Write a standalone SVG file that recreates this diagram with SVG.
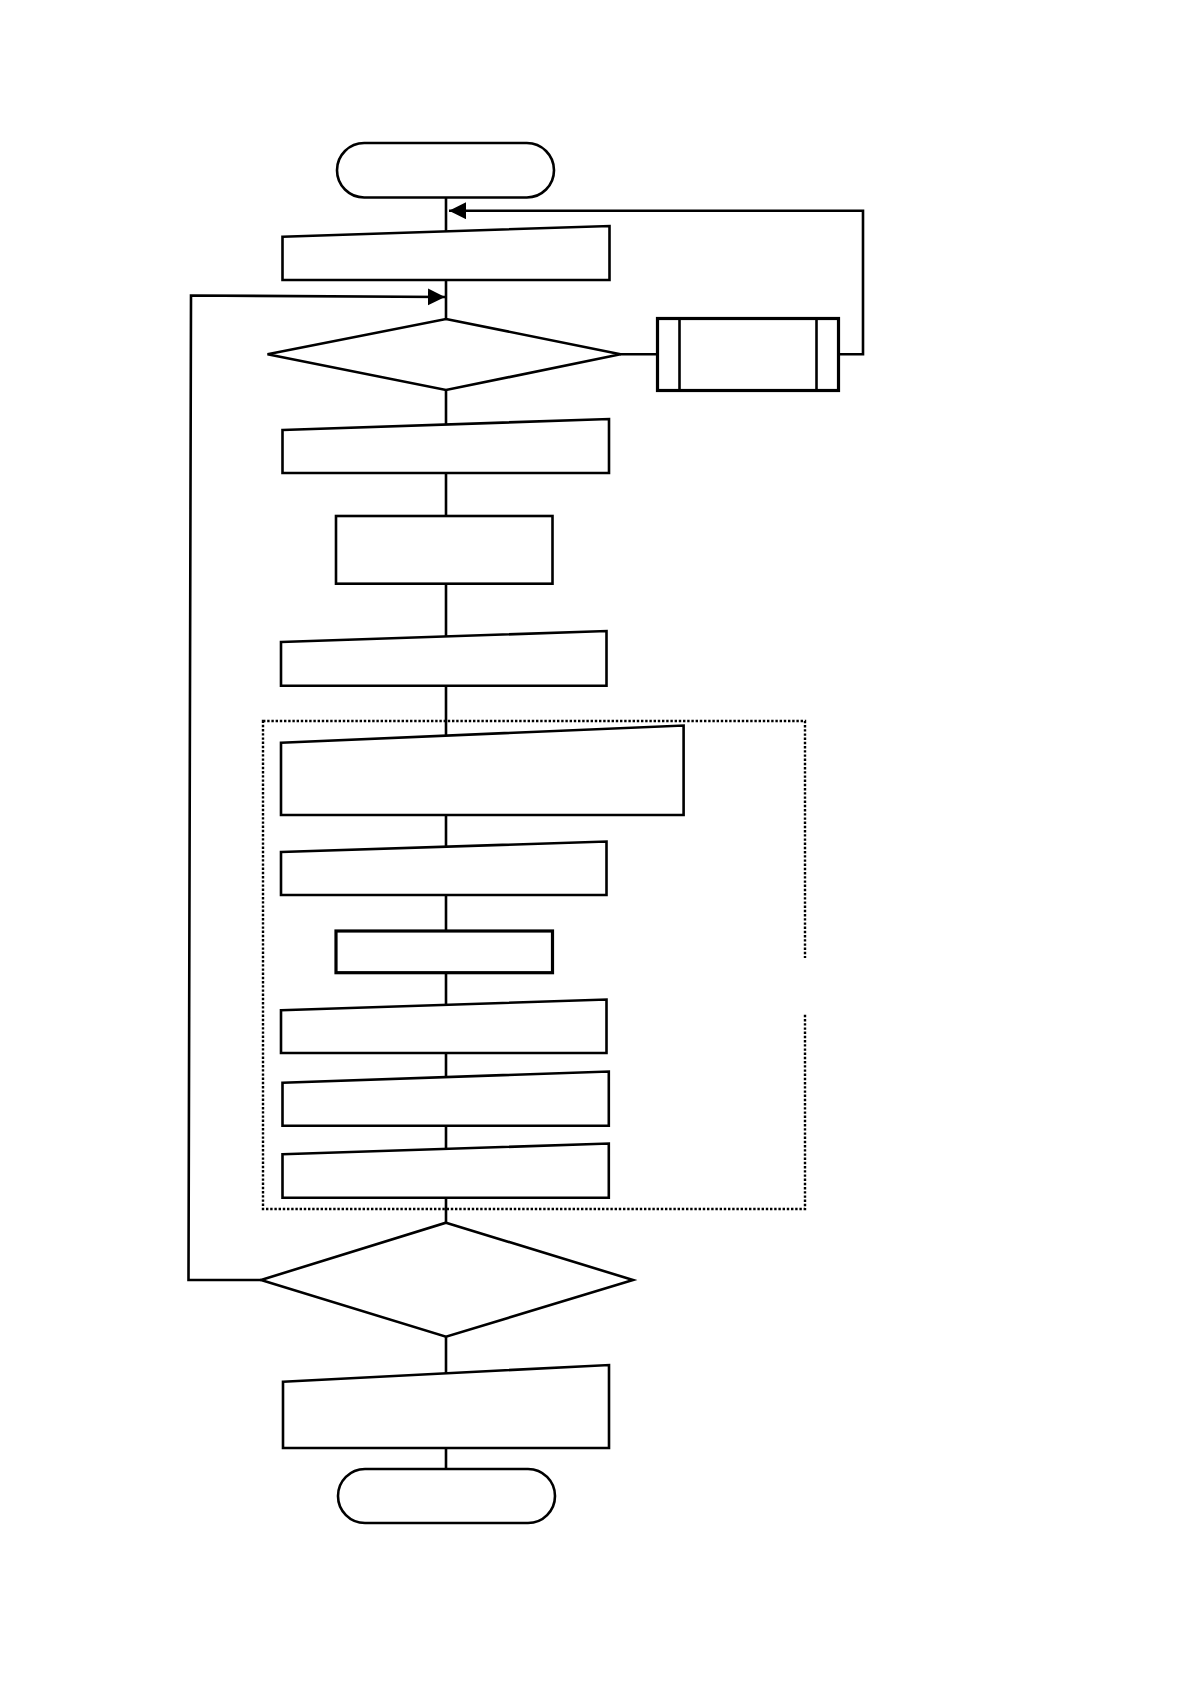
<svg xmlns="http://www.w3.org/2000/svg" width="1190" height="1684" viewBox="0 0 1190 1684">
<style>
.n{fill:#fff;stroke:#000;stroke-width:2.6;stroke-linejoin:miter}
.thick{stroke-width:3.2}
.c{fill:none;stroke:#000;stroke-width:2.6}
.grp{fill:none;stroke:#000;stroke-width:2.4;stroke-dasharray:2.4 1.8}
</style>
<defs>
<marker id="ah" markerUnits="userSpaceOnUse" markerWidth="18" markerHeight="18" refX="17" refY="8.5" orient="auto">
<path d="M0,0 L17,8.5 L0,17 Z" fill="#000"/>
</marker>
</defs>
<rect width="1190" height="1684" fill="#fff"/>
<g id="connectors">
<line class="c" x1="446" y1="197" x2="446" y2="232"/>
<line class="c" x1="446" y1="280" x2="446" y2="319"/>
<line class="c" x1="446" y1="390" x2="446" y2="425"/>
<line class="c" x1="446" y1="473" x2="446" y2="516"/>
<line class="c" x1="446" y1="584" x2="446" y2="637"/>
<line class="c" x1="446" y1="686" x2="446" y2="736"/>
<line class="c" x1="446" y1="815" x2="446" y2="847"/>
<line class="c" x1="446" y1="895" x2="446" y2="931"/>
<line class="c" x1="446" y1="973" x2="446" y2="1005"/>
<line class="c" x1="446" y1="1053" x2="446" y2="1077"/>
<line class="c" x1="446" y1="1126" x2="446" y2="1149"/>
<line class="c" x1="446" y1="1198" x2="446" y2="1223"/>
<line class="c" x1="446" y1="1337" x2="446" y2="1374"/>
<line class="c" x1="446" y1="1448" x2="446" y2="1469"/>
<line class="c" x1="620" y1="354.3" x2="658" y2="354.3"/>
<polyline class="c" points="838,354.3 863,354.3 863,210.7 449,210.7" marker-end="url(#ah)"/>
<polyline class="c" points="261,1280 188.5,1280 191,295.5 445,297" marker-end="url(#ah)"/>
</g>
<g id="start"><rect class="n" x="337" y="143" width="217" height="54.5" rx="27.2" ry="27.2"/></g>
<g id="input1"><polygon class="n" points="282.5,236.7 609.5,226 609.5,280 282.5,280"/></g>
<g id="decision1"><polygon class="n" points="446,319 620.5,354.3 446,390 267.5,354.3"/></g>
<g id="subprocess"><rect class="n thick" x="657.5" y="318.5" width="181" height="72"/><line class="c" x1="679.5" y1="318.5" x2="679.5" y2="390.5"/><line class="c" x1="816.5" y1="318.5" x2="816.5" y2="390.5"/></g>
<g id="input2"><polygon class="n" points="282.5,430 609,419 609,473 282.5,473"/></g>
<g id="process1"><rect class="n" x="336" y="516" width="216.5" height="67.7"/></g>
<g id="input3"><polygon class="n" points="281,642 606.5,631 606.5,685.7 281,685.7"/></g>
<g id="group"><rect class="grp" x="263" y="721" width="542" height="488"/><rect x="800" y="958" width="12" height="56" fill="#fff"/></g>
<g id="input4"><polygon class="n" points="281,742.7 683.6,725.5 683.6,815 281,815"/></g>
<g id="input5"><polygon class="n" points="281,852 606.5,841.5 606.5,895 281,895"/></g>
<g id="process2"><rect class="n thick" x="336" y="931" width="216.5" height="41.7"/></g>
<g id="input6"><polygon class="n" points="281,1010.3 606.5,999.5 606.5,1053 281,1053"/></g>
<g id="input7"><polygon class="n" points="282.5,1082.7 608.8,1071.5 608.8,1125.7 282.5,1125.7"/></g>
<g id="input8"><polygon class="n" points="282.5,1154.3 608.8,1143.5 608.8,1197.7 282.5,1197.7"/></g>
<g id="decision2"><polygon class="n" points="446,1222.7 633,1280 446,1336.7 261,1280"/></g>
<g id="input9"><polygon class="n" points="283,1381.7 609,1365 609,1448 283,1448"/></g>
<g id="end"><rect class="n" x="338" y="1469" width="217" height="54" rx="27" ry="27"/></g>
</svg>
